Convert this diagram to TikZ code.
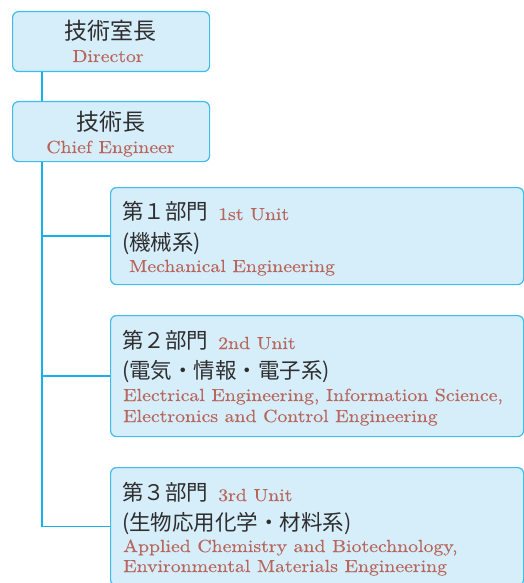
\documentclass[tikz,border=0pt]{standalone}
\usepackage{fontspec}
\setmainfont{lmroman10-regular.otf}[FakeStretch=1.13, FakeBold=0.3]
\newfontfamily\jp{Noto Sans CJK JP}
\usetikzlibrary{calc}
\definecolor{boxfill}{HTML}{D6EDFA}
\definecolor{boxline}{HTML}{3DBDEB}
\definecolor{conn}{HTML}{14B1EC}
\definecolor{entext}{HTML}{B8665C}
\definecolor{jptext}{HTML}{2E2E2E}
\begin{document}
\begin{tikzpicture}[x=1pt,y=-1pt,
  box/.style={draw=boxline, fill=boxfill, line width=1.2pt, rounded corners=6pt, rectangle, inner sep=0pt, anchor=north west},
  topbox/.style={box, minimum width=197pt, minimum height=60pt},
  unitbox/.style={box, minimum width=413pt},
  jpbig/.style={inner sep=0pt, text=jptext, font=\jp\fontsize{23}{27}\selectfont},
  jpmid/.style={inner sep=0pt, text=jptext, font=\jp\fontsize{21.5}{25}\selectfont, anchor=base west},
  en/.style={inner sep=0pt, text=entext, font=\fontsize{17.5}{21}\selectfont},
  enl/.style={en, anchor=base west},
  link/.style={draw=conn, line width=1.4pt}
]
\useasboundingbox (0,0) rectangle (524,583);
\clip (0,0) rectangle (524,583);

% boxes
\node[topbox] (dir) at (12,11) {};
\node[topbox] (chief) at (12,101) {};
\node[unitbox, minimum height=97pt] (u1) at (110,187) {};
\node[unitbox, minimum height=121pt] (u2) at (110,315) {};
\node[unitbox, minimum height=118pt] (u3) at (110,467) {};

% connectors
\draw[link] ($(dir.south west)+(30,0)$) -- ($(chief.north west)+(30,0)$);
\coordinate (trunk) at ($(chief.south west)+(30,0)$);
\draw[link] (trunk) |- (u3.west);
\draw[link] (trunk |- u1.west) -- (u1.west);
\draw[link] (trunk |- u2.west) -- (u2.west);

% texts: director / chief
\node[jpbig, anchor=base] (dirj) at (110.5,40) {技術室長};
\node[en, anchor=base] (dire) at (108,62) {Director};
\node[jpbig, anchor=base] (chj) at (110.5,130) {技術長};
\node[en, anchor=base] (che) at (110.5,153) {Chief Engineer};

% unit 1
\node[jpmid] (u1h) at (122,219) {第１部門};
\node[enl] (u1e) at (218,220) {1st Unit};
\node[jpmid] (u1j) at (122,250) {(機械系)};
\node[enl] (u1d) at (129,272) {Mechanical Engineering};

% unit 2
\node[jpmid] (u2h) at (122,348) {第２部門};
\node[enl] (u2e) at (218,349) {2nd Unit};
\node[jpmid] (u2j) at (122,378) {(電気・情報・電子系)};
\node[enl] (u2d) at (123,401) {Electrical Engineering, Information Science,};
\node[enl] (u2f) at (123,422) {Electronics and Control Engineering};

% unit 3
\node[jpmid] (u3h) at (122,500) {第３部門};
\node[enl] (u3e) at (218,501) {3rd Unit};
\node[jpmid] (u3j) at (122,530) {(生物応用化学・材料系)};
\node[enl] (u3d) at (123,552) {Applied Chemistry and Biotechnology,};
\node[enl] (u3f) at (123,572) {Environmental Materials Engineering};
\end{tikzpicture}
\end{document}
